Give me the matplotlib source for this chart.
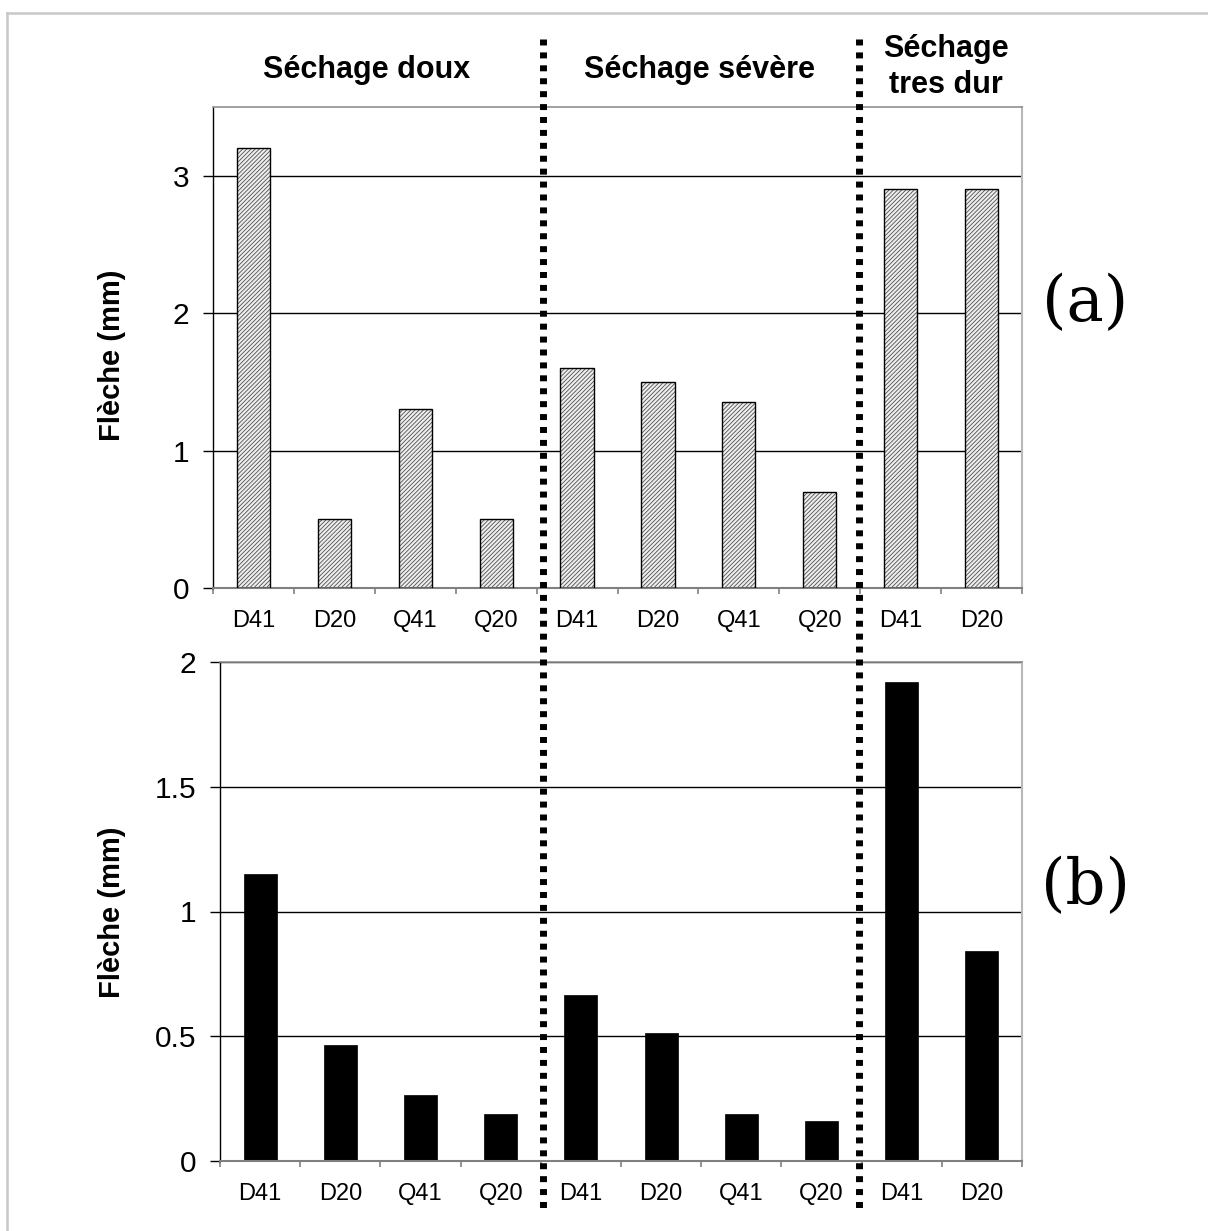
import matplotlib
matplotlib.use("Agg")
import matplotlib.pyplot as plt
from matplotlib.lines import Line2D
import numpy as np

plt.rcParams['font.family'] = ['Liberation Sans', 'DejaVu Sans']
plt.rcParams['lines.scale_dashes'] = False
plt.rcParams['hatch.linewidth'] = 0.6

categories = ["D41", "D20", "Q41", "Q20", "D41", "D20", "Q41", "Q20", "D41", "D20"]
values_a = [3.2, 0.5, 1.3, 0.5, 1.6, 1.5, 1.35, 0.7, 2.9, 2.9]
values_b = [1.15, 0.465, 0.265, 0.187, 0.665, 0.513, 0.188, 0.16, 1.92, 0.84]
group_titles = ["Séchage doux", "Séchage sévère", "Séchage\ntres dur"]
ylabel = "Flèche (mm)"
yticks_a = [0, 1, 2, 3]
yticks_b = [0, 0.5, 1, 1.5, 2]
ytick_labels_b = ["0", "0.5", "1", "1.5", "2"]

W, H = 1208, 1231
fig = plt.figure(figsize=(W / 100, H / 100), dpi=100)


def fx(px):
    return px / W


def fy(py):
    return 1 - py / H


ax_a = fig.add_axes([fx(213), fy(588), fx(1022) - fx(213), fy(107) - fy(588)])
ax_b = fig.add_axes([fx(220), fy(1161), fx(1022) - fx(220), fy(662) - fy(1161)])

x = np.arange(len(categories))
bw = 0.41


def style(ax, ylim, yticks, yticklabels):
    ax.set_xlim(-0.5, len(categories) - 0.5)
    ax.set_ylim(*ylim)
    ax.set_yticks(yticks)
    ax.set_yticklabels(yticklabels)
    for y in yticks[1:]:
        ax.axhline(y, color='black', lw=1.0, zorder=1)
    ax.spines['left'].set_color('black')
    ax.spines['left'].set_linewidth(1.0)
    ax.spines['bottom'].set_color('#808080')
    ax.spines['bottom'].set_linewidth(1.5)
    ax.spines['top'].set_color('#909090')
    ax.spines['top'].set_linewidth(1.2)
    ax.spines['right'].set_color('#b8b8b8')
    ax.spines['right'].set_linewidth(1.5)
    ax.tick_params(axis='y', direction='out', length=7.2, width=1.0,
                   color='black', labelsize=21.5, pad=10)
    ax.set_xticks(np.arange(-0.5, len(categories), 1.0))
    ax.set_xticklabels([])
    ax.tick_params(axis='x', which='major', direction='out', length=4.5,
                   width=1.2, color='#808080')
    ax.set_xticks(x, minor=True)
    ax.set_xticklabels(categories, minor=True)
    ax.tick_params(axis='x', which='minor', length=0, labelsize=17, pad=16)


style(ax_a, (0, 3.5), yticks_a, [str(v) for v in yticks_a])
style(ax_b, (0, 2), yticks_b, ytick_labels_b)

# hatched bars (a)
ax_a.bar(x, values_a, width=bw, facecolor='#eeeeee', edgecolor='#505050',
         hatch='////////', linewidth=0, zorder=2)
ax_a.bar(x, values_a, width=bw, facecolor='none', edgecolor='black',
         linewidth=1.0, zorder=3)
# black bars (b)
ax_b.bar(x, values_b, width=bw, facecolor='black', edgecolor='black',
         linewidth=0.5, zorder=2)

# y labels
fig.text(fx(112), fy(355), ylabel, rotation=90, ha='center', va='center',
         fontsize=21, fontweight='bold')
fig.text(fx(112), fy(912), ylabel, rotation=90, ha='center', va='center',
         fontsize=21, fontweight='bold')

# group titles
fig.text(fx(367), fy(70), group_titles[0], ha='center', va='center',
         fontsize=22, fontweight='bold')
fig.text(fx(700), fy(70), group_titles[1], ha='center', va='center',
         fontsize=22, fontweight='bold')
fig.text(fx(946), fy(67), group_titles[2], ha='center', va='center',
         fontsize=22, fontweight='bold', linespacing=1.28)

# panel letters
fig.text(fx(1085), fy(304), "(a)", ha='center', va='center', fontsize=45,
         family=['DejaVu Serif', 'Liberation Serif'])
fig.text(fx(1085), fy(887), "(b)", ha='center', va='center', fontsize=45,
         family=['DejaVu Serif', 'Liberation Serif'])

# dotted separators
for px in (543, 859):
    ln = Line2D([fx(px), fx(px)], [fy(39), fy(1213)], transform=fig.transFigure,
                color='black', lw=5.0, dashes=(4.3, 5.0), dash_capstyle='butt',
                zorder=10)
    fig.add_artist(ln)

# outer light border
fig.add_artist(Line2D([fx(7), 1.0], [fy(12.5), fy(12.5)], transform=fig.transFigure,
                      color='#c8c8c8', lw=1.8))
fig.add_artist(Line2D([fx(7), fx(7)], [fy(12.5), 0.0], transform=fig.transFigure,
                      color='#c8c8c8', lw=1.8))

fig.savefig("out.png", dpi=100, facecolor='white')
